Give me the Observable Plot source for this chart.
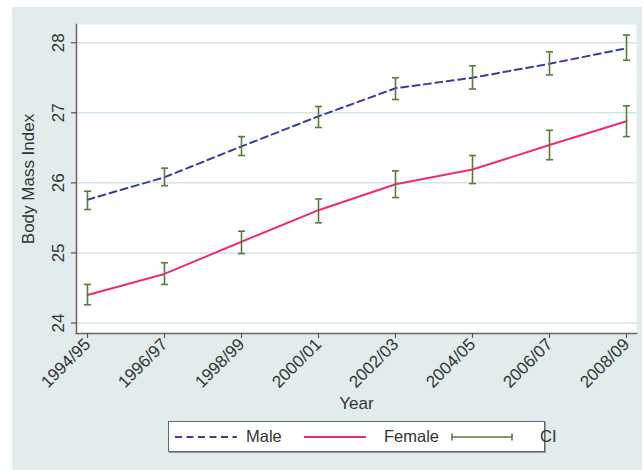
<!DOCTYPE html>
<html>
<head>
<meta charset="utf-8">
<script src="https://cdn.jsdelivr.net/npm/d3@7"></script>
<script src="https://cdn.jsdelivr.net/npm/@observablehq/plot@0.6"></script>
<style>
  html, body { margin: 0; padding: 0; background: #ffffff; }
  #wrap { position: relative; width: 642px; height: 470px; overflow: hidden; font-family: "Liberation Sans", Arial, sans-serif; }
  #bg { position: absolute; left: 12px; top: 7px; width: 630px; height: 463px; background: #e0edec; }
  #chart { position: absolute; left: 0; top: 0; }
  #legend { position: absolute; left: 168px; top: 421px; width: 375px; height: 29px; background: #fff; border: 1px solid #666; box-shadow: 1px 1px 0 #999; font-size: 16.5px; color: #333; }
  #legend .item { position: absolute; top: 0; height: 29px; line-height: 29px; white-space: nowrap; }
  #legend svg { position: absolute; top: 0; }
</style>
</head>
<body>
<div id="wrap">
  <div id="bg"></div>
  <div id="chart"></div>
  <div id="legend"></div>
</div>
<script>
const years = ["1994/95","1996/97","1998/99","2000/01","2002/03","2004/05","2006/07","2008/09"];
const male     = [25.76, 26.08, 26.52, 26.95, 27.35, 27.50, 27.70, 27.92];
const maleLo   = [25.62, 25.96, 26.39, 26.79, 27.19, 27.34, 27.54, 27.75];
const maleHi   = [25.88, 26.21, 26.66, 27.09, 27.50, 27.67, 27.87, 28.11];
const female   = [24.40, 24.70, 25.16, 25.61, 25.98, 26.19, 26.54, 26.88];
const femaleLo = [24.26, 24.55, 24.99, 25.43, 25.79, 25.99, 26.33, 26.66];
const femaleHi = [24.55, 24.86, 25.31, 25.77, 26.17, 26.39, 26.75, 27.10];
const yTicks = [24, 25, 26, 27, 28];
const seriesNames = ["Male", "Female"];
const legendLabels = ["Male", "Female", "CI"];

const colors = { Male: "#3a3f9e", Female: "#ee2a7b", CI: "#5a7a40" };
const dashes = { Male: "7,4.5", Female: null };

const rows = [];
years.forEach((yr, i) => {
  rows.push({ year: yr, sex: "Male", bmi: male[i], lo: maleLo[i], hi: maleHi[i] });
  rows.push({ year: yr, sex: "Female", bmi: female[i], lo: femaleLo[i], hi: femaleHi[i] });
});

const capSymbol = {
  draw(context, size) {
    const r = Math.sqrt(size / Math.PI);
    context.moveTo(-r, 0);
    context.lineTo(r, 0);
  }
};

const font = "Liberation Sans, Arial, sans-serif";

const plot = Plot.plot({
  width: 642,
  height: 415,
  marginLeft: 76,
  marginRight: 6,
  marginTop: 24,
  marginBottom: 82,
  style: { background: "transparent", fontFamily: font, fontSize: "17px", color: "#333" },
  x: { type: "point", domain: years, padding: 0.136 },
  y: { domain: [23.85, 28.26] },
  marks: [
    Plot.frame({ fill: "white", stroke: "none" }),
    Plot.gridY(yTicks, { stroke: "#d3e5e5", strokeOpacity: 1, strokeWidth: 1.5 }),
    Plot.frame({ anchor: "left", stroke: "#666", strokeWidth: 1.5 }),
    Plot.frame({ anchor: "bottom", stroke: "#666", strokeWidth: 1.5 }),
    Plot.axisY({ ticks: yTicks, tickFormat: d3.format("d"), tickSize: 5, tickRotate: -90, tickPadding: 8,
      stroke: "#555", strokeWidth: 1.2,
      label: "Body Mass Index", labelAnchor: "center", labelOffset: 55, labelArrow: "none", fontSize: 17 }),
    Plot.axisX({ tickSize: 5, tickRotate: -45, tickPadding: 3, stroke: "#555", strokeWidth: 1.2,
      label: "Year", labelAnchor: "center", labelOffset: 75, labelArrow: "none", fontSize: 17 }),
    ...seriesNames.map(s => Plot.line(rows.filter(d => d.sex === s), {
      x: "year", y: "bmi", stroke: colors[s], strokeWidth: 2, strokeDasharray: dashes[s], curve: "linear"
    })),
    Plot.ruleX(rows, { x: "year", y1: "lo", y2: "hi", stroke: colors.CI, strokeWidth: 1.6 }),
    Plot.dot(rows, { x: "year", y: "lo", symbol: capSymbol, r: 3.5, stroke: colors.CI, strokeWidth: 1.6 }),
    Plot.dot(rows, { x: "year", y: "hi", symbol: capSymbol, r: 3.5, stroke: colors.CI, strokeWidth: 1.6 })
  ]
});
document.getElementById("chart").appendChild(plot);

// Legend
const legend = document.getElementById("legend");
const sampleX = [6, 135, 282];
const textX = [77, 215, 371];
legendLabels.forEach((lab, i) => {
  const svg = d3.create("svg").attr("width", 64).attr("height", 29)
    .style("left", sampleX[i] + "px");
  if (lab === "CI") {
    svg.append("line").attr("x1", 1).attr("x2", 61).attr("y1", 15).attr("y2", 15)
      .attr("stroke", colors.CI).attr("stroke-width", 1.6);
    [1, 61].forEach(x => svg.append("line").attr("x1", x).attr("x2", x).attr("y1", 11.5).attr("y2", 18.5)
      .attr("stroke", colors.CI).attr("stroke-width", 1.6));
  } else {
    svg.append("line").attr("x1", 0).attr("x2", 62).attr("y1", 15).attr("y2", 15)
      .attr("stroke", colors[lab]).attr("stroke-width", 2)
      .attr("stroke-dasharray", dashes[lab]);
  }
  legend.appendChild(svg.node());
  const t = document.createElement("div");
  t.className = "item";
  t.style.left = textX[i] + "px";
  t.textContent = lab;
  legend.appendChild(t);
});
</script>
</body>
</html>
